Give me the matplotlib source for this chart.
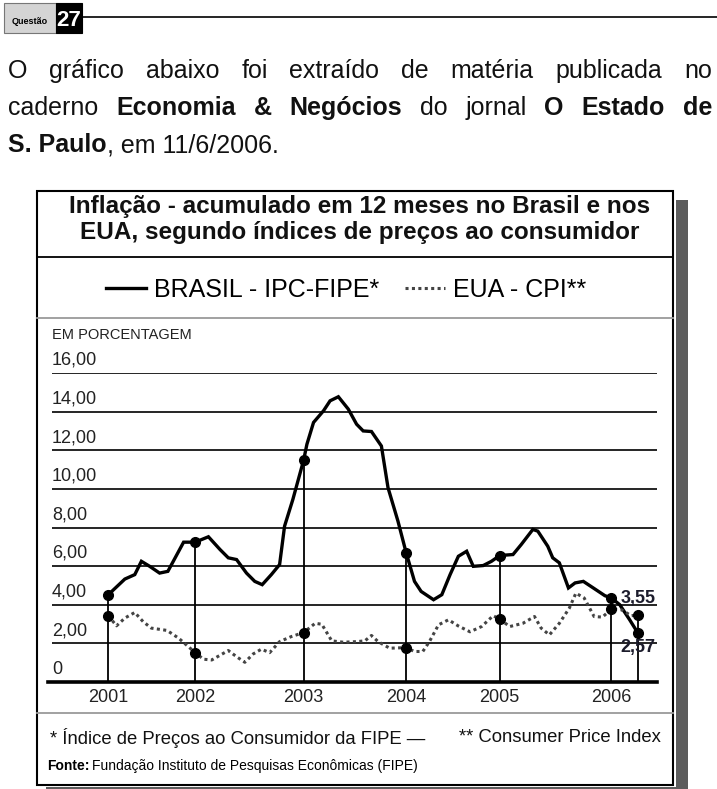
import matplotlib
matplotlib.use("Agg")
import matplotlib.pyplot as plt
from matplotlib.patches import Rectangle
from matplotlib.lines import Line2D

plt.rcParams['font.family'] = ['Liberation Sans', 'DejaVu Sans']

W, H = 717, 789

# meses desde jan/2001 e inflacao acumulada em 12 meses (%)
brasil_mes = [0, 2.0, 3.2, 4.0, 5.0, 6.2, 7.2, 9.1, 10.5, 12.1, 13.5, 14.5, 15.5, 16.7,
              17.7, 18.6, 19.7, 20.7, 21.3, 22.3, 23.6, 24.0, 24.8, 26.0, 26.8, 27.8,
              29.0, 30.0, 30.8, 31.8, 33.0, 33.8, 35.0, 36.0, 37.0, 37.8, 39.3, 40.3,
              41.3, 42.3, 43.3, 44.1, 45.3, 46.3, 47.3, 48.9, 49.9, 51.3, 51.9, 53.1,
              53.7, 54.5, 55.6, 56.4, 57.4, 58.6, 60.0, 60.8, 61.8, 63.0, 64.0]
brasil_val = [4.52, 5.33, 5.56, 6.25, 5.99, 5.64, 5.73, 7.24, 7.24, 7.52, 6.86, 6.43, 6.34, 5.64,
              5.21, 5.04, 5.56, 6.08, 8.07, 9.45, 11.48, 12.31, 13.44, 14.04, 14.56, 14.77,
              14.13, 13.35, 13.0, 12.97, 12.22, 10.06, 8.33, 6.68, 5.21, 4.69, 4.26, 4.52,
              5.56, 6.51, 6.77, 5.99, 6.03, 6.25, 6.55, 6.6, 7.12, 7.9, 7.81, 7.03,
              6.43, 6.17, 4.87, 5.13, 5.21, 4.87, 4.47, 4.35, 4.0, 3.22, 2.53]

eua_mes = [0, 1.0, 2.0, 3.2, 4.2, 5.2, 7.1, 8.5, 10.5, 11.5, 12.5, 14.5, 15.5, 16.5, 17.5,
           18.5, 19.5, 20.7, 22.1, 23.6, 25.0, 25.8, 27.0, 28.4, 30.0, 31.0, 31.8, 32.6,
           34.0, 36.0, 37.0, 38.0, 38.8, 39.9, 41.1, 42.3, 43.7, 45.1, 46.5, 47.3, 48.5,
           50.1, 51.5, 52.3, 53.3, 54.5, 55.7, 56.5, 57.5, 58.7, 59.7, 60.8, 62.0, 63.2, 64.0]
eua_val = [3.43, 2.91, 3.31, 3.6, 3.13, 2.79, 2.67, 2.27, 1.52, 1.18, 1.14, 1.63, 1.31, 1.02, 1.45,
           1.70, 1.52, 2.09, 2.35, 2.56, 3.04, 2.99, 2.13, 2.06, 2.09, 2.13, 2.41, 2.09,
           1.75, 1.78, 1.58, 1.58, 2.09, 2.96, 3.22, 2.9, 2.6, 2.87, 3.43, 3.26, 2.87,
           3.04, 3.39, 2.79, 2.44, 3.04, 3.82, 4.6, 4.35, 3.39, 3.36, 3.77, 3.74, 3.43, 3.48]

marco_mes = [0, 10.5, 23.6, 36.0, 47.3, 60.8, 64.0]
marco_brasil = [4.52, 7.24, 11.48, 6.68, 6.55, 4.35, 2.53]
marco_eua = [3.43, 1.52, 2.56, 1.78, 3.26, 3.77, 3.48]
anos = ['2001', '2002', '2003', '2004', '2005', '2006']

y_ticks = [0, 2, 4, 6, 8, 10, 12, 14, 16]
y_labels = ['0', '2,00', '4,00', '6,00', '8,00', '10,00', '12,00', '14,00', '16,00']


def fx(px):
    return px / W


def fy(py):
    return 1 - py / H


fig = plt.figure(figsize=(W / 100, H / 100), dpi=100)
rend = fig.canvas.get_renderer()

# cabecalho "Questao 27"
fig.patches.append(Rectangle((fx(4), fy(33)), fx(52), 30 / H, transform=fig.transFigure,
                             facecolor='#d4d4d4', edgecolor='#777777', lw=0.8))
fig.patches.append(Rectangle((fx(56), fy(33)), fx(26), 30 / H, transform=fig.transFigure,
                             facecolor='black', edgecolor='black', lw=0.8))
fig.text(fx(30), fy(22), 'Questão', fontsize=6.5, fontweight='bold', ha='center', va='center')
fig.text(fx(69), fy(20), '27', fontsize=16, fontweight='bold', color='white', ha='center', va='center')
fig.lines.append(Line2D([fx(82), 1], [fy(17), fy(17)], transform=fig.transFigure, color='black', lw=1.2))


def linha(tokens, y, x0, x1=None, size=18):
    objs = []
    for t, b in tokens:
        objs.append(fig.text(0, fy(y), t, fontsize=size, ha='left', va='baseline',
                             fontweight='bold' if b else 'normal', color='#111111'))
    widths = [o.get_window_extent(rend).width for o in objs]
    if x1 is None:
        gap = 0
    else:
        gap = (x1 - x0 - sum(widths)) / (len(objs) - 1)
    x = x0
    for o, w in zip(objs, widths):
        o.set_x(fx(x))
        x += w + gap


linha([(w, False) for w in 'O gráfico abaixo foi extraído de matéria publicada no'.split()], 78, 8, 712)
linha([('caderno', False), ('Economia', True), ('&', True), ('Negócios', True), ('do', False),
       ('jornal', False), ('O', True), ('Estado', True), ('de', True)], 115, 8, 712)
linha([('S. Paulo', True), (', em 11/6/2006.', False)], 152, 8)

# caixa do grafico com sombra
fig.patches.append(Rectangle((fx(46), fy(800)), fx(688 - 46), 600 / H, transform=fig.transFigure,
                             facecolor='#5c5c5c', edgecolor='none'))
fig.patches.append(Rectangle((fx(35), fy(787)), fx(676 - 35), 598 / H, transform=fig.transFigure,
                             facecolor='white', edgecolor='none'))
fig.patches.append(Rectangle((fx(37), fy(785)), fx(673 - 37), 594 / H, transform=fig.transFigure,
                             facecolor='none', edgecolor='black', lw=1.5))
fig.lines.append(Line2D([fx(37), fx(673)], [fy(257), fy(257)], transform=fig.transFigure, color='black', lw=1.3))
fig.lines.append(Line2D([fx(37), fx(673)], [fy(318), fy(318)], transform=fig.transFigure, color='#9a9a9a', lw=1.3))
fig.lines.append(Line2D([fx(37), fx(673)], [fy(713), fy(713)], transform=fig.transFigure, color='#9a9a9a', lw=1.3))

fig.text(fx(360), fy(207), 'Inflação - acumulado em 12 meses no Brasil e nos', fontsize=17.5,
         fontweight='bold', ha='center', va='center', color='#111111')
fig.text(fx(360), fy(233), 'EUA, segundo índices de preços ao consumidor', fontsize=17.5,
         fontweight='bold', ha='center', va='center', color='#111111')

# area do grafico
ax = fig.add_axes([fx(52), fy(682), fx(657 - 52), (682 - 373) / H])
ax.set_zorder(5)
ax.patch.set_alpha(0)
ax.set_xlim(-6.8, 66.3)
ax.set_ylim(0, 16)
ax.axis('off')

for v, lab in zip(y_ticks, y_labels):
    if v > 0:
        ax.axhline(v, color='black', lw=1.2, zorder=1)
    ax.annotate(lab, (0, v), xycoords=('axes fraction', 'data'), xytext=(0, 3),
                textcoords='offset points', fontsize=13, ha='left', va='bottom', color='#222222')
ax.axhline(0, xmin=-0.006, color='black', lw=2.6, clip_on=False, zorder=3)
ax.text(0, 1.1, 'EM PORCENTAGEM', transform=ax.transAxes, fontsize=10.5, ha='left', va='bottom',
        color='#222222')

topo = [max(a, b) for a, b in zip(marco_brasil, marco_eua)]
ax.vlines(marco_mes, 0, topo, color='black', lw=1.3, zorder=2)

l_br, = ax.plot(brasil_mes, brasil_val, color='black', lw=2.4, zorder=4,
                solid_joinstyle='miter', label='BRASIL - IPC-FIPE*')
l_us, = ax.plot(eua_mes, eua_val, color='#444444', lw=2.2, ls=(0, (1, 1.1)), zorder=4,
                label='EUA - CPI**')
ax.plot(marco_mes, marco_brasil, 'o', color='black', ms=7, zorder=5)
ax.plot(marco_mes, marco_eua, 'o', color='black', ms=7, zorder=5)

for m, a in zip(marco_mes, anos):
    ax.annotate(a, (m, 0), xytext=(0, -5), textcoords='offset points', ha='center', va='top',
                fontsize=13, color='#222222', annotation_clip=False)

ax.text(marco_mes[-1], 4.31, '3,55', fontsize=13, fontweight='bold', ha='center', va='center',
        color='#1c1c2c', zorder=6)
ax.text(marco_mes[-1], 1.77, '2,57', fontsize=13, fontweight='bold', ha='center', va='center',
        color='#1c1c2c', zorder=6)

fig.legend(handles=[l_br, l_us], loc='center', bbox_to_anchor=(fx(346), fy(290)), ncol=2,
           frameon=False, fontsize=18, handlelength=1.6, handletextpad=0.35, columnspacing=1.0)

fig.text(fx(50), fy(738), '* Índice de Preços ao Consumidor da FIPE —', fontsize=13.3,
         ha='left', va='center', color='#111111')
fig.text(fx(661), fy(738), '** Consumer Price Index', fontsize=13.3, ha='right', va='center',
         color='#111111')
t1 = fig.text(fx(47), fy(766), 'Fonte:', fontsize=10, fontweight='bold', ha='left', va='center')
w1 = t1.get_window_extent(rend).width
fig.text(fx(47 + w1 + 3), fy(766), 'Fundação Instituto de Pesquisas Econômicas (FIPE)', fontsize=10,
         ha='left', va='center')

fig.savefig('out.png', dpi=100)
